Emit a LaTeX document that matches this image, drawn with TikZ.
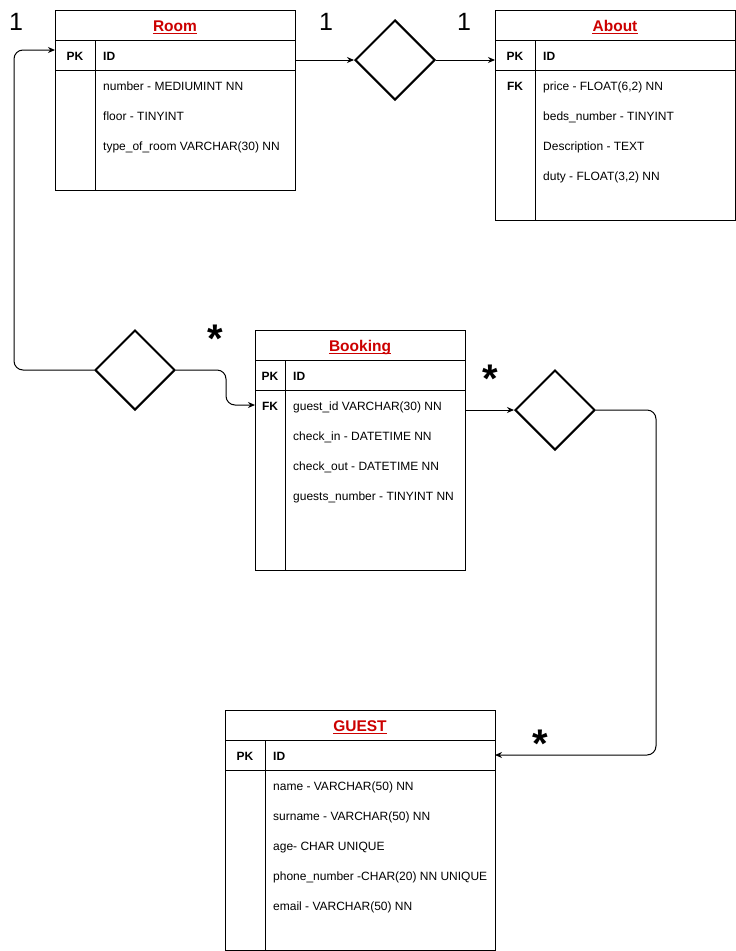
\documentclass[tikz,border=0pt]{standalone}
\usepackage{fontspec}
\setmainfont{Liberation Sans}
\usetikzlibrary{shapes.geometric,arrows.meta}
\definecolor{titlered}{HTML}{CC0000}
\begin{document}
\begin{tikzpicture}[x=1pt,y=-1pt,
  tbl/.style={draw, line width=1pt, inner sep=0pt, anchor=north west},
  sep/.style={line width=1pt},
  fld/.style={anchor=base west, font=\fontsize{12}{14}\selectfont, inner sep=0pt},
  keyt/.style={anchor=base, font=\bfseries\fontsize{12}{14}\selectfont, inner sep=0pt},
  ttl/.style={anchor=base, font=\bfseries\fontsize{15.5}{18}\selectfont, text=titlered, inner sep=0pt},
  ul/.style={draw=titlered, line width=1.2pt},
  rel/.style={diamond, draw, line width=2pt, minimum width=80pt, minimum height=80pt, inner sep=0pt},
  conn/.style={draw, line width=1pt, -{Stealth[length=7pt,width=6pt]}, rounded corners=9pt},
  card/.style={anchor=base, font=\fontsize{25}{29}\selectfont, inner sep=0pt},
  star/.style={anchor=base, font=\bfseries\fontsize{40}{44}\selectfont, inner sep=0pt}]
\useasboundingbox (0,0) rectangle (736,951);
\fill[white] (0,0) rectangle (736,951);

% ---------- Room ----------
\node[tbl, minimum width=240pt, minimum height=180pt] (room) at (55,10) {};
\draw[sep] (55,40) -- (295,40) (55,70) -- (295,70) (95,40) -- (95,190);
\node[ttl] (roomT) at (175,31) {Room};
\draw[ul] ([yshift=-2.5pt]roomT.base west) -- ([yshift=-2.5pt]roomT.base east);
\node[keyt] (roomPK) at (75,60.3) {PK};
\node[fld] (roomID) at (103,60.3) {\bfseries ID};
\node[fld] (room1) at (103,90.3) {number - MEDIUMINT NN};
\node[fld] (room2) at (103,120.3) {floor - TINYINT};
\node[fld] (room3) at (103,150.3) {type\_of\_room VARCHAR(30) NN};
\coordinate (roomR) at (295,60);
\coordinate (roomL) at (55,50);

% ---------- About ----------
\node[tbl, minimum width=240pt, minimum height=210pt] (about) at (495,10) {};
\draw[sep] (495,40) -- (735,40) (495,70) -- (735,70) (535,40) -- (535,220);
\node[ttl] (aboutT) at (615,31) {About};
\draw[ul] ([yshift=-2.5pt]aboutT.base west) -- ([yshift=-2.5pt]aboutT.base east);
\node[keyt] (aboutPK) at (515,60.3) {PK};
\node[fld] (aboutID) at (543,60.3) {\bfseries ID};
\node[keyt] (aboutFK) at (515,90.3) {FK};
\node[fld] (about1) at (543,90.3) {price - FLOAT(6,2) NN};
\node[fld] (about2) at (543,120.3) {beds\_number - TINYINT};
\node[fld] (about3) at (543,150.3) {Description - TEXT};
\node[fld] (about4) at (543,180.3) {duty - FLOAT(3,2) NN};
\coordinate (aboutL) at (495,60);

% ---------- Booking ----------
\node[tbl, minimum width=210pt, minimum height=240pt] (book) at (255,330) {};
\draw[sep] (255,360) -- (465,360) (255,390) -- (465,390) (285,360) -- (285,570);
\node[ttl] (bookT) at (360,351) {Booking};
\draw[ul] ([yshift=-2.5pt]bookT.base west) -- ([yshift=-2.5pt]bookT.base east);
\node[keyt] (bookPK) at (270,380.3) {PK};
\node[fld] (bookID) at (293,380.3) {\bfseries ID};
\node[keyt] (bookFK) at (270,410.3) {FK};
\node[fld] (book1) at (293,410.3) {guest\_id VARCHAR(30) NN};
\node[fld] (book2) at (293,440.3) {check\_in - DATETIME NN};
\node[fld] (book3) at (293,470.3) {check\_out - DATETIME NN};
\node[fld] (book4) at (293,500.3) {guests\_number - TINYINT NN};
\coordinate (bookL) at (255,405);
\coordinate (bookR) at (465,410);

% ---------- GUEST ----------
\node[tbl, minimum width=270pt, minimum height=240pt] (guest) at (225,710) {};
\draw[sep] (225,740) -- (495,740) (225,770) -- (495,770) (265,740) -- (265,950);
\node[ttl] (guestT) at (360,731) {GUEST};
\draw[ul] ([yshift=-2.5pt]guestT.base west) -- ([yshift=-2.5pt]guestT.base east);
\node[keyt] (guestPK) at (245,760.3) {PK};
\node[fld] (guestID) at (273,760.3) {\bfseries ID};
\node[fld] (guest1) at (273,790.3) {name - VARCHAR(50) NN};
\node[fld] (guest2) at (273,820.3) {surname - VARCHAR(50) NN};
\node[fld] (guest3) at (273,850.3) {age- CHAR UNIQUE};
\node[fld] (guest4) at (273,880.3) {phone\_number -CHAR(20) NN UNIQUE};
\node[fld] (guest5) at (273,910.3) {email - VARCHAR(50) NN};
\coordinate (guestR) at (495,755);

% ---------- relations ----------
\node[rel] (d1) at (395,60) {};
\node[rel] (d2) at (135,370) {};
\node[rel] (d3) at (555,410) {};

% ---------- connectors ----------
\draw[conn] (roomR) -- (d1.west);
\draw[conn] (d1.east) -- (aboutL);
\draw[conn] (d2.west) -- ++(-80,0) |- (roomL);
\draw[conn] (d2.east) -- ++(50,0) |- (bookL);
\draw[conn] (bookR) -- (d3.west);
\draw[conn] (d3.east) -- ++(60,0) |- (guestR);

% ---------- cardinalities ----------
\node[card] (c1) at (16,30) {1};
\node[card] (c2) at (326,30) {1};
\node[card] (c3) at (464,30) {1};
\node[star] (s1) at (215,352) {*};
\node[star] (s2) at (490,392) {*};
\node[star] (s3) at (540,757) {*};
\end{tikzpicture}
\end{document}
